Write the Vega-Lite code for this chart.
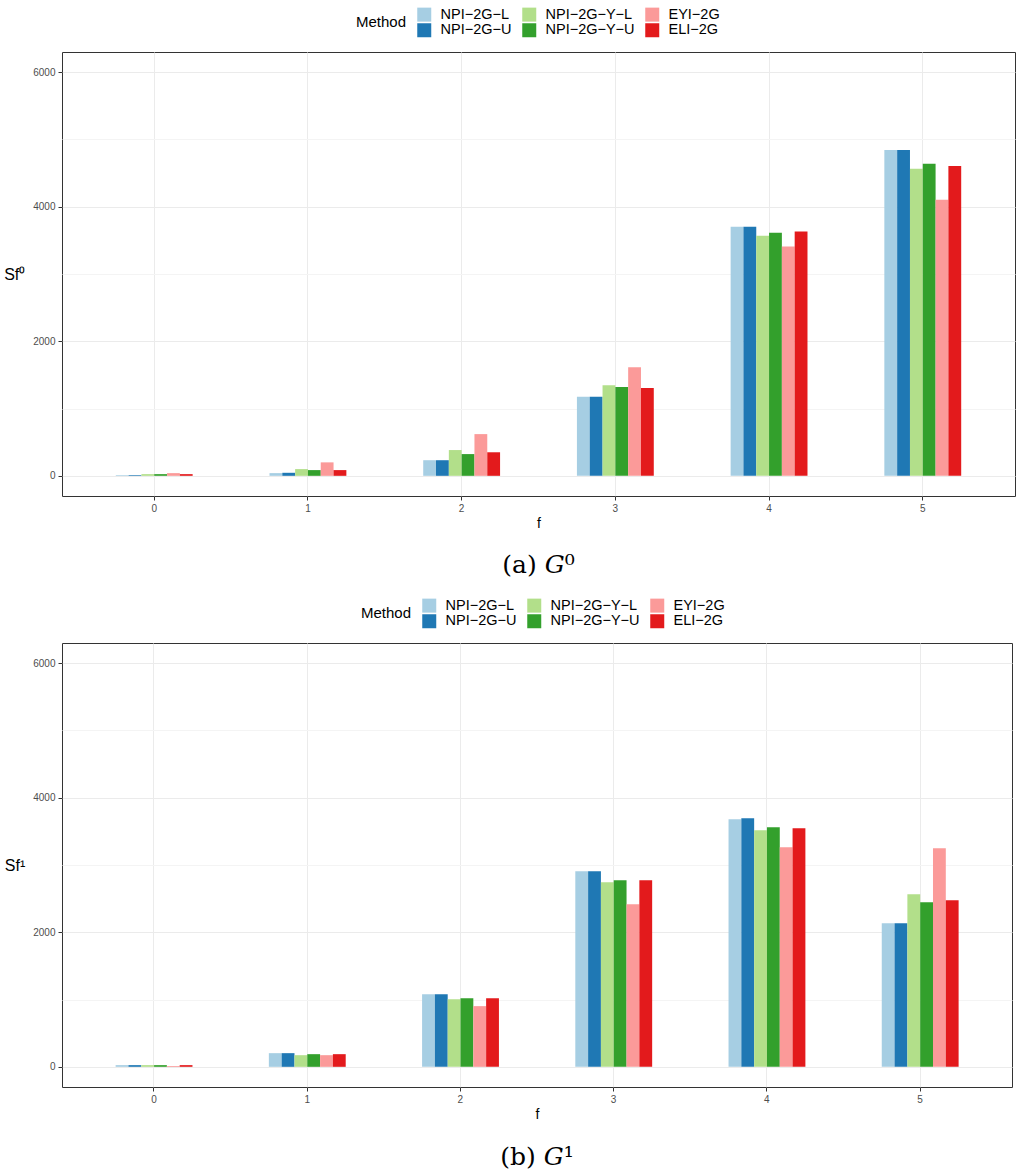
{
  "$schema": "https://vega.github.io/schema/vega-lite/v6.json",
  "padding": {"left": 3, "top": 6, "right": 1, "bottom": 3},
  "background": "white",
  "datasets": {
    "g0": [
      {"f": "0", "method": "NPI-2G-L", "value": 10}, {"f": "0", "method": "NPI-2G-U", "value": 10}, {"f": "0", "method": "NPI-2G-Y-L", "value": 25}, {"f": "0", "method": "NPI-2G-Y-U", "value": 25}, {"f": "0", "method": "EYI-2G", "value": 40}, {"f": "0", "method": "ELI-2G", "value": 25},
      {"f": "1", "method": "NPI-2G-L", "value": 40}, {"f": "1", "method": "NPI-2G-U", "value": 45}, {"f": "1", "method": "NPI-2G-Y-L", "value": 100}, {"f": "1", "method": "NPI-2G-Y-U", "value": 85}, {"f": "1", "method": "EYI-2G", "value": 200}, {"f": "1", "method": "ELI-2G", "value": 85},
      {"f": "2", "method": "NPI-2G-L", "value": 232}, {"f": "2", "method": "NPI-2G-U", "value": 232}, {"f": "2", "method": "NPI-2G-Y-L", "value": 383}, {"f": "2", "method": "NPI-2G-Y-U", "value": 323}, {"f": "2", "method": "EYI-2G", "value": 620}, {"f": "2", "method": "ELI-2G", "value": 350},
      {"f": "3", "method": "NPI-2G-L", "value": 1175}, {"f": "3", "method": "NPI-2G-U", "value": 1175}, {"f": "3", "method": "NPI-2G-Y-L", "value": 1348}, {"f": "3", "method": "NPI-2G-Y-U", "value": 1319}, {"f": "3", "method": "EYI-2G", "value": 1615}, {"f": "3", "method": "ELI-2G", "value": 1304},
      {"f": "4", "method": "NPI-2G-L", "value": 3704}, {"f": "4", "method": "NPI-2G-U", "value": 3704}, {"f": "4", "method": "NPI-2G-Y-L", "value": 3570}, {"f": "4", "method": "NPI-2G-Y-U", "value": 3615}, {"f": "4", "method": "EYI-2G", "value": 3407}, {"f": "4", "method": "ELI-2G", "value": 3630},
      {"f": "5", "method": "NPI-2G-L", "value": 4844}, {"f": "5", "method": "NPI-2G-U", "value": 4844}, {"f": "5", "method": "NPI-2G-Y-L", "value": 4563}, {"f": "5", "method": "NPI-2G-Y-U", "value": 4637}, {"f": "5", "method": "EYI-2G", "value": 4104}, {"f": "5", "method": "ELI-2G", "value": 4607}
    ],
    "g1": [
      {"f": "0", "method": "NPI-2G-L", "value": 25}, {"f": "0", "method": "NPI-2G-U", "value": 25}, {"f": "0", "method": "NPI-2G-Y-L", "value": 25}, {"f": "0", "method": "NPI-2G-Y-U", "value": 25}, {"f": "0", "method": "EYI-2G", "value": 12}, {"f": "0", "method": "ELI-2G", "value": 25},
      {"f": "1", "method": "NPI-2G-L", "value": 203}, {"f": "1", "method": "NPI-2G-U", "value": 203}, {"f": "1", "method": "NPI-2G-Y-L", "value": 173}, {"f": "1", "method": "NPI-2G-Y-U", "value": 188}, {"f": "1", "method": "EYI-2G", "value": 173}, {"f": "1", "method": "ELI-2G", "value": 188},
      {"f": "2", "method": "NPI-2G-L", "value": 1080}, {"f": "2", "method": "NPI-2G-U", "value": 1080}, {"f": "2", "method": "NPI-2G-Y-L", "value": 1006}, {"f": "2", "method": "NPI-2G-Y-U", "value": 1020}, {"f": "2", "method": "EYI-2G", "value": 902}, {"f": "2", "method": "ELI-2G", "value": 1020},
      {"f": "3", "method": "NPI-2G-L", "value": 2908}, {"f": "3", "method": "NPI-2G-U", "value": 2908}, {"f": "3", "method": "NPI-2G-Y-L", "value": 2745}, {"f": "3", "method": "NPI-2G-Y-U", "value": 2774}, {"f": "3", "method": "EYI-2G", "value": 2417}, {"f": "3", "method": "ELI-2G", "value": 2774},
      {"f": "4", "method": "NPI-2G-L", "value": 3680}, {"f": "4", "method": "NPI-2G-U", "value": 3695}, {"f": "4", "method": "NPI-2G-Y-L", "value": 3516}, {"f": "4", "method": "NPI-2G-Y-U", "value": 3561}, {"f": "4", "method": "EYI-2G", "value": 3264}, {"f": "4", "method": "ELI-2G", "value": 3546},
      {"f": "5", "method": "NPI-2G-L", "value": 2135}, {"f": "5", "method": "NPI-2G-U", "value": 2135}, {"f": "5", "method": "NPI-2G-Y-L", "value": 2566}, {"f": "5", "method": "NPI-2G-Y-U", "value": 2447}, {"f": "5", "method": "EYI-2G", "value": 3250}, {"f": "5", "method": "ELI-2G", "value": 2477}
    ]
  },
  "spacing": 18,
  "resolve": {"scale": {"color": "independent"}, "legend": {"color": "independent"}},
  "vconcat": [
    {
      "data": {"name": "g0"},
      "width": 953,
      "height": 444,
      "title": {"text": "(a) 𝐺⁰", "orient": "bottom", "font": "DejaVu Serif", "fontSize": 25, "fontWeight": "normal", "color": "#000000", "offset": 23, "anchor": "middle"},
      "mark": {"type": "bar", "strokeWidth": 0},
      "encoding": {
        "x": {"field": "f", "type": "nominal", "sort": ["0", "1", "2", "3", "4", "5"], "title": "f",
          "scale": {"paddingInner": 0.5, "paddingOuter": 0.35},
          "axis": {"labelAngle": 0, "bandPosition": 0.5, "grid": true}},
        "xOffset": {"field": "method", "type": "nominal", "sort": ["NPI-2G-L", "NPI-2G-U", "NPI-2G-Y-L", "NPI-2G-Y-U", "EYI-2G", "ELI-2G"], "scale": {"paddingInner": 0, "paddingOuter": 0}},
        "y": {"field": "value", "type": "quantitative", "title": "Sf⁰",
          "scale": {"domain": [-300, 6300], "nice": false, "zero": false},
          "axis": {"values": [0, 1000, 2000, 3000, 4000, 5000, 6000], "format": "d",
            "labelExpr": "datum.value % 2000 === 0 ? datum.label : ''",
            "tickOpacity": {"condition": {"test": "datum.value % 2000 === 0", "value": 1}, "value": 0},
            "gridColor": {"condition": {"test": "datum.value % 2000 === 0", "value": "#EBEBEB"}, "value": "#F4F4F4"}}},
        "color": {"field": "method", "type": "nominal",
          "scale": {"domain": ["NPI-2G-L", "NPI-2G-Y-L", "EYI-2G", "NPI-2G-U", "NPI-2G-Y-U", "ELI-2G"],
            "range": ["#A6CEE3", "#B2DF8A", "#FB9A99", "#1F78B4", "#33A02C", "#E31A1C"]},
          "legend": {"title": "Method", "orient": "none", "legendX": 294, "legendY": -45, "direction": "horizontal", "columns": 3, "labelExpr": "replace(datum.label, /-/g, '−')"}}
      }
    },
    {
      "data": {"name": "g1"},
      "width": 950,
      "height": 444,
      "title": {"text": "(b) 𝐺¹", "orient": "bottom", "font": "DejaVu Serif", "fontSize": 25, "fontWeight": "normal", "color": "#000000", "offset": 24, "anchor": "middle"},
      "mark": {"type": "bar", "strokeWidth": 0},
      "encoding": {
        "x": {"field": "f", "type": "nominal", "sort": ["0", "1", "2", "3", "4", "5"], "title": "f",
          "scale": {"paddingInner": 0.5, "paddingOuter": 0.35},
          "axis": {"labelAngle": 0, "bandPosition": 0.5, "grid": true}},
        "xOffset": {"field": "method", "type": "nominal", "sort": ["NPI-2G-L", "NPI-2G-U", "NPI-2G-Y-L", "NPI-2G-Y-U", "EYI-2G", "ELI-2G"], "scale": {"paddingInner": 0, "paddingOuter": 0}},
        "y": {"field": "value", "type": "quantitative", "title": "Sf¹",
          "scale": {"domain": [-300, 6300], "nice": false, "zero": false},
          "axis": {"values": [0, 1000, 2000, 3000, 4000, 5000, 6000], "format": "d",
            "labelExpr": "datum.value % 2000 === 0 ? datum.label : ''",
            "tickOpacity": {"condition": {"test": "datum.value % 2000 === 0", "value": 1}, "value": 0},
            "gridColor": {"condition": {"test": "datum.value % 2000 === 0", "value": "#EBEBEB"}, "value": "#F4F4F4"}}},
        "color": {"field": "method", "type": "nominal",
          "scale": {"domain": ["NPI-2G-L", "NPI-2G-Y-L", "EYI-2G", "NPI-2G-U", "NPI-2G-Y-U", "ELI-2G"],
            "range": ["#A6CEE3", "#B2DF8A", "#FB9A99", "#1F78B4", "#33A02C", "#E31A1C"]},
          "legend": {"title": "Method", "orient": "none", "legendX": 299, "legendY": -45, "direction": "horizontal", "columns": 3, "labelExpr": "replace(datum.label, /-/g, '−')"}}
      }
    }
  ],
  "config": {
    "font": "Liberation Sans",
    "view": {"stroke": "#333333", "strokeWidth": 1},
    "axis": {"domain": false, "tickColor": "#333333", "tickSize": 4, "labelColor": "#4D4D4D", "labelFontSize": 10, "labelFont": "Liberation Sans", "labelPadding": 3, "titleFontSize": 14, "titleFontWeight": "normal", "titleColor": "#000000", "titleFont": "Liberation Sans", "gridColor": "#EBEBEB", "gridWidth": 1},
    "axisX": {"titlePadding": 3, "titleFontSize": 14},
    "axisY": {"titleAngle": 0, "titleAlign": "right", "titleBaseline": "middle", "titlePadding": 8, "titleFontSize": 16},
    "legend": {"titleOrient": "left", "titleAnchor": "middle", "titleFontSize": 15, "titleFontWeight": "normal", "titleColor": "#000000", "titlePadding": 10, "labelFontSize": 14.5, "labelColor": "#000000", "labelFont": "Liberation Sans", "titleFont": "Liberation Sans", "symbolType": "square", "symbolSize": 196, "symbolStrokeWidth": 0, "symbolOpacity": 1, "rowPadding": 0, "columnPadding": 10, "labelOffset": 9}
  }
}
